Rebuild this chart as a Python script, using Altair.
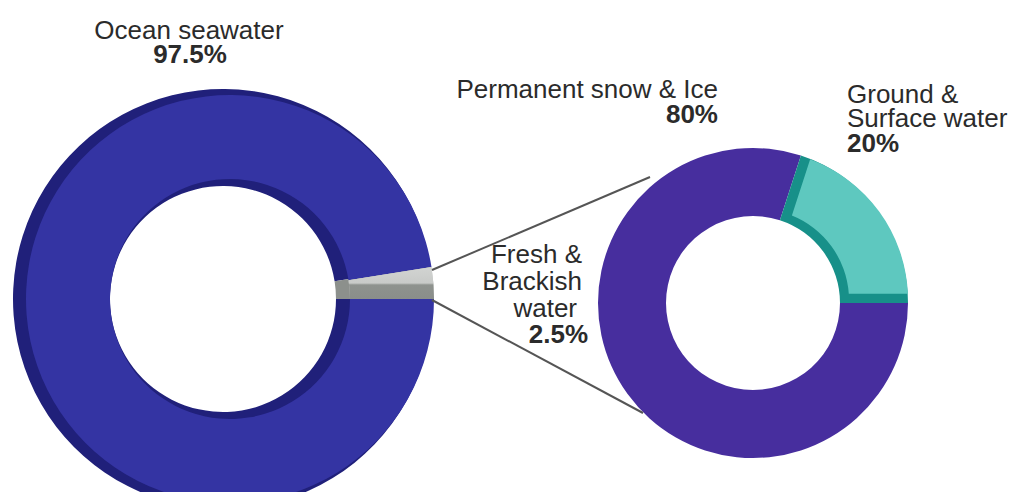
import math
import altair as alt
import pandas as pd

# ---- data ----
ocean_names = ["Ocean seawater", "Fresh & Brackish water"]
ocean_values = [97.5, 2.5]
fresh_names = ["Permanent snow & Ice", "Ground & Surface water"]
fresh_values = [80, 20]

ocean_label_lines = ["Ocean seawater"]
ocean_pct = "97.5%"
snow_label_lines = ["Permanent snow & Ice"]
snow_pct = "80%"
ground_label_lines = ["Ground &", "Surface water"]
ground_pct = "20%"
fresh_label_lines = ["Fresh &", "Brackish", "water"]
fresh_pct = "2.5%"

left_df = pd.DataFrame({"name": ocean_names, "value": ocean_values})
right_df = pd.DataFrame({"name": fresh_names, "value": fresh_values})

FONT = "Liberation Sans"
TXT = "#2b2b2b"
FS = 26

color_domain = [
    "Ocean seawater", "Fresh & Brackish water",
    "Permanent snow & Ice", "Ground & Surface water",
    "Ocean seawater rim", "Fresh & Brackish water rim",
    "Permanent snow & Ice rim", "Ground & Surface water rim",
]
color_range = [
    "#3434a3", "#c4c6c4",
    "#472e9e", "#5ec8bf",
    "#20207a", "#8c908c",
    "#472e9e", "#179089",
]
cscale = alt.Scale(domain=color_domain, range=color_range)
tscale = alt.Scale(domain=[0, 100], range=[math.pi / 2, math.pi / 2 + 2 * math.pi])
theta = alt.Theta("value:Q", stack=True, scale=tscale)
order = alt.Order("value:Q", sort="descending")


def ring(df, cx, cy, r_out, r_in, rim=False, only=None, **mk):
    base = alt.Chart(df)
    if rim:
        base = base.transform_calculate(key="datum.name + ' rim'")
    else:
        base = base.transform_calculate(key="datum.name")
    enc = dict(
        theta=theta,
        order=order,
        x=alt.value(cx),
        y=alt.value(cy),
    )
    if "fill" not in mk:
        enc["color"] = alt.Color("key:N", scale=cscale, legend=None)
    if only is not None:
        enc["opacity"] = alt.when(alt.datum.name == only).then(alt.value(1)).otherwise(alt.value(0))
    return base.mark_arc(radius=r_out, radius2=r_in, **mk).encode(**enc)


one = pd.DataFrame({"a": [0]})


def text(lines, x, y, align="center", bold=False):
    s = "\n".join(lines) if isinstance(lines, list) else lines
    return alt.Chart(one).mark_text(
        text=s, lineBreak="\n", lineHeight=24,
        font=FONT, fontSize=FS, fontWeight="bold" if bold else "normal",
        color=TXT, align=align, baseline="alphabetic",
    ).encode(x=alt.value(x), y=alt.value(y))


def rule(x1, y1, x2, y2):
    return alt.Chart(one).mark_rule(color="#555555", strokeWidth=2).encode(
        x=alt.value(x1), y=alt.value(y1), x2=alt.value(x2), y2=alt.value(y2)
    )


wedge_grad = alt.LinearGradient(
    gradient="linear",
    stops=[
        alt.GradientStop(offset=0, color="#d2d4d2"),
        alt.GradientStop(offset=0.5, color="#c8cac8"),
        alt.GradientStop(offset=0.56, color="#8e928e"),
        alt.GradientStop(offset=1, color="#8a8e8a"),
    ],
    x1=0, x2=0, y1=0, y2=1,
)

layers = [
    # left donut (ocean)
    ring(left_df, 215, 291, 210, 113, rim=True),
    ring(left_df, 222, 291, 204, 120),
    ring(left_df, 222, 291, 204, 120, only="Fresh & Brackish water", fill=wedge_grad),
    # right donut (fresh water)
    ring(right_df, 745, 295, 155, 87, rim=True),
    ring(right_df, 750, 292, 150, 91, only="Ground & Surface water", padAngle=0.07),
    # connector lines
    rule(424, 262, 642, 169),
    rule(424, 292, 635, 405),
]

# labels
layers.append(text(ocean_label_lines, 181, 31))
layers.append(text(ocean_pct, 182, 55, bold=True))
layers.append(text(snow_label_lines, 710, 90, align="right"))
layers.append(text(snow_pct, 710, 115, align="right", bold=True))
layers.append(text(ground_label_lines, 839, 95, align="left"))
layers.append(text(ground_pct, 839, 144, align="left", bold=True))
fresh_x = [574, 574, 569]
for i, s in enumerate(fresh_label_lines):
    layers.append(text(s, fresh_x[i], 255 + 27 * i, align="right"))
layers.append(text(fresh_pct, 580, 335, align="right", bold=True))

chart = (
    alt.layer(*layers)
    .properties(
        width=1000, height=484, padding=0,
        autosize=alt.AutoSizeParams(type="none"),
        view=alt.ViewBackground(stroke="transparent", strokeWidth=0, fill="white"),
    )
    .configure_view(strokeWidth=0, stroke="transparent")
    .configure(background="white")
)

chart.save("out.html", embed_options={"renderer": "svg", "actions": False})
